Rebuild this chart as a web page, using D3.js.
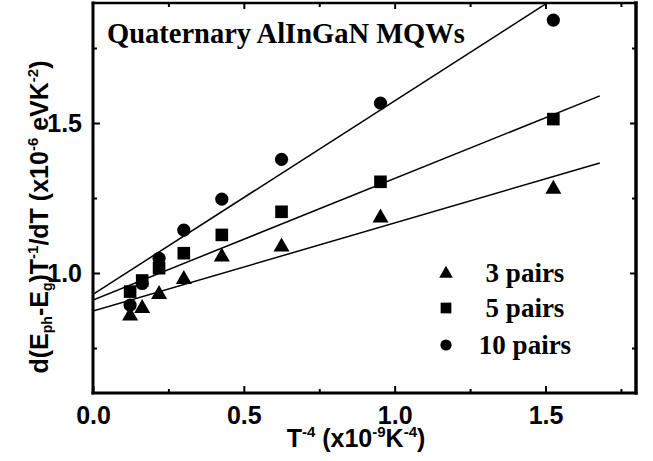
<!DOCTYPE html>
<html>
<head>
<meta charset="utf-8">
<script src="https://cdn.jsdelivr.net/npm/d3@7"></script>
<style>
  body { margin: 0; background: #fff; }
  svg { display: block; }
</style>
</head>
<body>
<div id="grafica"></div>
<script>
// --- datos
const xT4 = [0.123, 0.163, 0.219, 0.301, 0.427, 0.625, 0.953, 1.526];
const pairs3 = [0.86, 0.885, 0.932, 0.982, 1.057, 1.09, 1.187, 1.283];
const pairs5 = [0.938, 0.975, 1.016, 1.066, 1.127, 1.204, 1.304, 1.513];
const pairs10 = [0.893, 0.965, 1.049, 1.143, 1.246, 1.379, 1.566, 1.843];
const seriesNames = ['3 pairs', '5 pairs', '10 pairs'];
const fitIntercept = [0.873, 0.91, 0.929];
const fitSlope = [0.294, 0.405, 0.645];
const fitRange = [0, 1.68];
const xTicks = [0, 0.5, 1.0, 1.5];
const xMinor = [0.25, 0.75, 1.25, 1.75];
const yTicks = [1.0, 1.5];
const yMinor = [0.75, 1.25, 1.75];

const W = 653, H = 461;
const x = d3.scaleLinear().domain([0, 1.8]).range([93, 636]);
const y = d3.scaleLinear().domain([0.6, 1.9]).range([393, 3]);

const svg = d3.select('#grafica').append('svg')
  .attr('width', W).attr('height', H);

const sans = 'Liberation Sans, Arial, sans-serif';
const serif = 'Liberation Serif, Times New Roman, serif';

// clip para las rectas
svg.append('clipPath').attr('id', 'plot')
  .append('rect').attr('x', x(0)).attr('y', y(1.9))
  .attr('width', x(1.8) - x(0)).attr('height', y(0.6) - y(1.9));

// rectas de ajuste
const fits = seriesNames.map((n, i) => fitRange.map(v => [v, fitIntercept[i] + fitSlope[i] * v]));
svg.append('g').attr('clip-path', 'url(#plot)')
  .selectAll('path').data(fits).enter().append('path')
  .attr('d', d3.line().x(d => x(d[0])).y(d => y(d[1])))
  .attr('fill', 'none').attr('stroke', 'black').attr('stroke-width', 1.5);

// marcadores
const triPath = (w, h) => `M0,${-h * 0.6}L${w / 2},${h * 0.4}L${-w / 2},${h * 0.4}Z`;
function marker(sel, kind, s) {
  if (kind === 0) sel.append('path').attr('d', triPath(16 * s, 14 * s));
  else if (kind === 1) sel.append('rect').attr('x', -6.3 * s).attr('y', -6.3 * s)
    .attr('width', 12.6 * s).attr('height', 12.6 * s);
  else sel.append('circle').attr('r', 6.6 * s);
}
[pairs3, pairs5, pairs10].forEach((vals, k) => {
  svg.append('g').selectAll('g').data(vals).enter().append('g')
    .attr('transform', (d, i) => `translate(${x(xT4[i])},${y(d)})`)
    .each(function () { marker(d3.select(this), k, 1); })
    .attr('fill', 'black');
});

// ejes
const axisStyle = g => {
  g.select('.domain').remove();
  g.selectAll('line').attr('stroke', 'black').attr('stroke-width', 2);
  g.selectAll('text').attr('font-family', sans).attr('font-weight', 'bold')
    .attr('font-size', 25).attr('fill', 'black');
};
svg.append('g').attr('transform', `translate(0,${y(0.6)})`)
  .call(d3.axisBottom(x).tickValues(xTicks).tickSize(-7).tickPadding(13).tickFormat(d3.format('.1f')))
  .call(axisStyle);
svg.append('g').attr('transform', `translate(0,${y(0.6)})`)
  .call(d3.axisBottom(x).tickValues(xMinor).tickSize(-4).tickFormat(''))
  .call(axisStyle);
svg.append('g').attr('transform', `translate(${x(0)},0)`)
  .call(d3.axisLeft(y).tickValues(yTicks).tickSize(-7).tickPadding(11).tickFormat(d3.format('.1f')))
  .call(axisStyle);
svg.append('g').attr('transform', `translate(${x(0)},0)`)
  .call(d3.axisLeft(y).tickValues(yMinor).tickSize(-4).tickFormat(''))
  .call(axisStyle);
svg.append('g').attr('transform', `translate(0,${y(1.9)})`)
  .call(d3.axisTop(x).tickValues(xTicks.slice(1)).tickSize(-6).tickFormat(''))
  .call(axisStyle);
svg.append('g').attr('transform', `translate(0,${y(1.9)})`)
  .call(d3.axisTop(x).tickValues(xMinor).tickSize(-4).tickFormat(''))
  .call(axisStyle);
svg.append('g').attr('transform', `translate(${x(1.8)},0)`)
  .call(d3.axisRight(y).tickValues(yTicks).tickSize(-6).tickFormat(''))
  .call(axisStyle);
svg.append('g').attr('transform', `translate(${x(1.8)},0)`)
  .call(d3.axisRight(y).tickValues(yMinor).tickSize(-4).tickFormat(''))
  .call(axisStyle);

// marco
const frame = svg.append('g').attr('stroke', 'black').attr('stroke-linecap', 'square');
frame.append('line').attr('x1', x(0)).attr('x2', x(0)).attr('y1', y(1.9)).attr('y2', y(0.6)).attr('stroke-width', 3);
frame.append('line').attr('x1', x(0)).attr('x2', x(1.8)).attr('y1', y(0.6)).attr('y2', y(0.6)).attr('stroke-width', 3);
frame.append('line').attr('x1', x(0)).attr('x2', x(1.8)).attr('y1', y(1.9)).attr('y2', y(1.9)).attr('stroke-width', 2.5);
frame.append('line').attr('x1', x(1.8)).attr('x2', x(1.8)).attr('y1', y(1.9)).attr('y2', y(0.6)).attr('stroke-width', 3.5);

// titulo
svg.append('text').attr('x', 107).attr('y', 43)
  .attr('font-family', serif).attr('font-weight', 'bold').attr('font-size', 28.5)
  .text('Quaternary AlInGaN MQWs');

// leyenda
const leg = svg.append('g');
seriesNames.forEach((n, k) => {
  const yy = [273, 308, 345][k];
  const m = leg.append('g').attr('transform', `translate(446,${yy})`).attr('fill', 'black');
  marker(m, k, 0.85);
  leg.append('text').attr('x', 525).attr('y', yy + 9).attr('text-anchor', 'middle')
    .attr('font-family', serif).attr('font-weight', 'bold').attr('font-size', 27)
    .text(n);
});

// etiquetas de ejes
function richLabel(t, parts) {
  parts.forEach(p => {
    const ts = t.append('tspan').text(p[0]);
    if (p[1] === 'sup') ts.attr('font-size', 15).attr('dy', -10);
    if (p[1] === 'sub') ts.attr('font-size', 14).attr('dy', 4);
    if (p[1] === 'supend') ts.attr('dy', 10);
    if (p[1] === 'subend') ts.attr('dy', -4);
  });
}
const xl = svg.append('text').attr('x', 356).attr('y', 447).attr('text-anchor', 'middle')
  .attr('font-family', sans).attr('font-weight', 'bold').attr('font-size', 25);
richLabel(xl, [['T'], ['-4', 'sup'], [' (x10', 'supend'], ['-9', 'sup'], ['K', 'supend'], ['-4', 'sup'], [')', 'supend']]);

const yl = svg.append('text').attr('transform', 'translate(48,217) rotate(-90)').attr('text-anchor', 'middle')
  .attr('font-family', sans).attr('font-weight', 'bold').attr('font-size', 25);
richLabel(yl, [['d(E'], ['ph', 'sub'], ['-E', 'subend'], ['g', 'sub'], [')T', 'subend'], ['-1', 'sup'],
  ['/dT (x10', 'supend'], ['-6', 'sup'], [' eVK', 'supend'], ['-2', 'sup'], [')', 'supend']]);
</script>
</body>
</html>
